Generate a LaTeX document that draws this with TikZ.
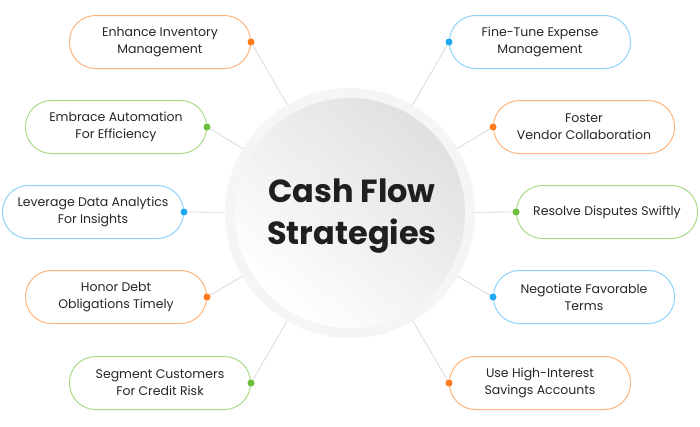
\documentclass[tikz,border=0pt]{standalone}
\usepackage{fontspec}
\setmainfont{Poppins}
\definecolor{cor}{HTML}{FF7A1A}
\definecolor{cgr}{HTML}{6BBF3A}
\definecolor{cbl}{HTML}{1FA8F2}
\definecolor{lor}{HTML}{FFB27A}
\definecolor{lgr}{HTML}{A8DA88}
\definecolor{lbl}{HTML}{8CD3FA}
\begin{document}
\begin{tikzpicture}[x=1pt,y=-1pt,
 pill/.style={draw=#1,line width=1pt,rounded corners=26pt,minimum width=181pt,minimum height=53pt,align=center,font=\fontsize{12.5}{17}\selectfont,text=black!85},
 dot/.style={circle,fill=#1,inner sep=0pt,minimum size=7pt},
 link/.style={draw=black!15,line width=0.8pt}]
\useasboundingbox (0,0) rectangle (700,426);
\node[circle,minimum size=250pt,fill=black!4,inner sep=0pt] (c) at (350,213) {};
\shade[top color=black!12,bottom color=white,shading angle=-40] (350,213) circle (115pt);
\node[align=center,font=\fontsize{32}{42}\selectfont\bfseries,text=black!88] (t) at (352,216) {Cash Flow\\Strategies};
\foreach \n/\x/\y/\lc/\dc/\s/\txt in {
 a/160/42/lor/cor/east/{Enhance Inventory\\Management},
 b/116/127/lgr/cgr/east/{Embrace Automation\\For Efficiency},
 e/93/212/lbl/cbl/east/{Leverage Data Analytics\\For Insights},
 f/116/297/lor/cor/east/{Honor Debt\\Obligations Timely},
 g/160/383/lgr/cgr/east/{Segment Customers\\For Credit Risk},
 h/540/42/lbl/cbl/west/{Fine-Tune Expense\\Management},
 i/584/127/lor/cor/west/{Foster\\Vendor Collaboration},
 j/607/212/lgr/cgr/west/{Resolve Disputes Swiftly},
 k/584/297/lbl/cbl/west/{Negotiate Favorable\\Terms},
 l/540/383/lor/cor/west/{Use High-Interest\\Savings Accounts}}{
 \node[pill=\lc] (p\n) at (\x,\y) {\txt};
 \node[dot=\dc] (d\n) at (p\n.\s) {};
 \draw[link] (d\n) -- (c);
}
\end{tikzpicture}
\end{document}
